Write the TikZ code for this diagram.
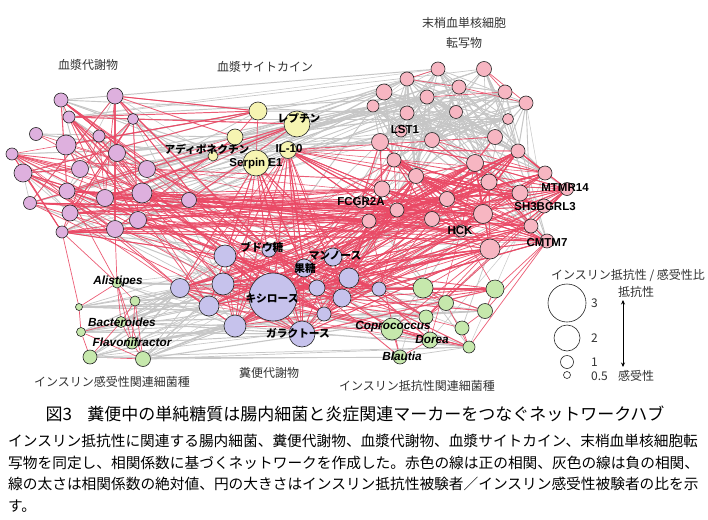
\documentclass[tikz,border=0pt]{standalone}
\usepackage{fontspec}
\setmainfont{Liberation Sans}
\newfontfamily\jp{Noto Sans CJK JP}
\usetikzlibrary{arrows.meta}
\definecolor{pm}{RGB}{222,176,222}
\definecolor{cy}{RGB}{246,244,178}
\definecolor{pb}{RGB}{247,182,194}
\definecolor{fm}{RGB}{198,194,236}
\definecolor{bgr}{RGB}{198,232,172}
\definecolor{posc}{RGB}{234,74,102}
\definecolor{negc}{RGB}{198,198,198}
\pgfdeclarelayer{bgfill}
\pgfdeclarelayer{edges}
\pgfsetlayers{bgfill,edges,main}
\newcommand\rndedges[9]{%
  \pgfmathsetseed{#9}%
  \foreach \k in {1,...,#8}{%
    \pgfmathrandominteger{\rxa}{#3}{#4}%
    \pgfmathrandominteger{\rxb}{#6}{#7}%
    \pgfmathsetmacro{\rxw}{0.45+0.7*rnd}%
    \draw[#1, line width=\rxw pt] (#2\rxa) -- (#5\rxb);
  }}
\tikzset{
  vtx/.style={circle, draw=black!85, line width=0.6pt, inner sep=0pt, minimum size=#1},
  posline/.style={posc, opacity=0.9},
  negline/.style={negc},
  lat/.style={font=\bfseries\fontsize{11.5}{13}\selectfont, inner sep=0pt},
  bac/.style={font=\bfseries\itshape\fontsize{11.8}{13}\selectfont, inner sep=0pt},
  jlb/.style={font=\jp\bfseries\fontsize{10.7}{12}\selectfont, inner sep=0pt},
  cat/.style={font=\jp\fontsize{12}{14}\selectfont, text=black!80, inner sep=0pt},
  body/.style={font=\jp\fontsize{14.7}{16}\selectfont, inner sep=0pt, anchor=west},
}
\begin{document}
\begin{tikzpicture}[x=1pt,y=-1pt]
\begin{pgfonlayer}{bgfill}
\fill[white] (0,0) rectangle (708,519);
\end{pgfonlayer}
\useasboundingbox (0,0) rectangle (708,519);

% plasma metabolites
\foreach \n/\x/\y/\d in {p1/61/100/14, p2/115/96/16, p3/69/117/12, p4/133/119/11,
  p5/36/134/13, p6/99/136/12, p7/66/145/20, p8/12/154/12, p9/117/153/17,
  p10/23/173/18, p11/80/169/17, p12/147/169/17, p13/67/191/16, p14/105/198/17,
  p15/142/193/20, p16/30/203/13, p17/189/200/15, p18/70/213/16, p19/138/220/17,
  p20/115/229/17, p21/62/232/12}
  \node[vtx=\d pt, fill=pm] (\n) at (\x,\y) {};
% cytokines
\foreach \n/\x/\y/\d in {c1/258/111/18, c2/297/124/26, c3/235/137/16, c4/213/156/10,
  c5/288/150/17, c6/256/163/26}
  \node[vtx=\d pt, fill=cy] (\n) at (\x,\y) {};
% PBMC transcripts
\foreach \n/\x/\y/\d in {t1/438/69/14, t2/484/69/15, t3/407/79/14, t4/384/92/16,
  t5/459/87/14, t6/427/97/14, t7/505/92/14, t8/373/106/12, t9/407/113/14,
  t10/456/112/13, t11/526/103/14, t12/508/119/11, t13/401/131/12, t14/380/142/17,
  t15/432/140/15, t16/495/137/15, t17/394/160/14, t18/518/151/14, t19/475/163/17,
  t20/416/176/15, t21/545/173/14, t22/489/182/16, t23/382/189/16, t24/567/189/13,
  t25/361/202/12, t26/447/199/15, t27/520/193/16, t28/544/206/14, t29/397/210/14,
  t30/369/221/14, t31/432/219/15, t32/483/214/19, t33/531/226/14, t34/461/231/12,
  t35/547/241/14, t36/490/249/20}
  \node[vtx=\d pt, fill=pb] (\n) at (\x,\y) {};
% fecal metabolites
\foreach \n/\x/\y/\d in {f1/269/250/14, f2/225/256/22, f3/333/257/18, f4/304/268/18,
  f5/349/278/20, f6/223/284/22, f7/180/288/19, f8/317/288/16, f9/273/297/48,
  f10/342/298/18, f11/379/289/14, f12/209/306/20, f13/324/314/14, f14/235/326/22,
  f15/302/334/26}
  \node[vtx=\d pt, fill=fm] (\n) at (\x,\y) {};
% insulin-sensitivity bacteria
\foreach \n/\x/\y/\d in {s1/117/283/10, s2/135/301/10, s3/79/307/7, s4/121/322/11,
  s5/81/332/9, s6/132/343/12, s7/90/357/14, s8/143/359/15}
  \node[vtx=\d pt, fill=bgr] (\n) at (\x,\y) {};
% insulin-resistance bacteria
\foreach \n/\x/\y/\d in {r1/423/288/20, r2/495/289/18, r3/446/303/15, r4/485/311/15,
  r5/426/317/14, r6/392/329/22, r7/462/328/14, r8/430/340/16, r9/469/347/12,
  r10/400/357/14}
  \node[vtx=\d pt, fill=bgr] (\n) at (\x,\y) {};

% connectors
\begin{pgfonlayer}{edges}
% negative correlations (grey)
\rndedges{negline}{t}{1}{12}{t}{13}{22}{120}{11}
\rndedges{negline}{t}{1}{6}{t}{7}{12}{30}{12}
\rndedges{negline}{t}{1}{12}{t}{23}{36}{25}{13}
\rndedges{negline}{t}{1}{12}{c}{1}{6}{14}{14}
\rndedges{negline}{t}{1}{16}{p}{1}{21}{34}{15}
\rndedges{negline}{p}{1}{21}{c}{1}{6}{20}{28}
\rndedges{negline}{p}{1}{10}{p}{11}{21}{12}{29}
\rndedges{negline}{f}{1}{15}{s}{1}{8}{60}{41}
\rndedges{negline}{f}{1}{15}{r}{1}{10}{15}{42}
\rndedges{negline}{s}{1}{8}{r}{1}{10}{8}{43}
\rndedges{negline}{f}{1}{15}{t}{1}{36}{20}{45}
\rndedges{negline}{p}{1}{21}{f}{1}{15}{15}{46}
\rndedges{negline}{r}{1}{10}{t}{13}{36}{8}{48}
% positive correlations (red)
\rndedges{posline}{t}{14}{19}{t}{20}{26}{30}{22}
\rndedges{posline}{t}{17}{26}{t}{27}{36}{120}{21}
\rndedges{posline}{f}{1}{15}{t}{17}{36}{90}{23}
\rndedges{posline}{f}{1}{7}{f}{8}{15}{55}{24}
\rndedges{posline}{p}{12}{21}{t}{23}{36}{55}{25}
\rndedges{posline}{p}{1}{21}{f}{1}{15}{40}{26}
\rndedges{posline}{p}{1}{10}{p}{11}{21}{35}{27}
\rndedges{posline}{c}{5}{5}{t}{13}{36}{14}{31}
\rndedges{posline}{c}{5}{6}{f}{1}{15}{24}{32}
\rndedges{posline}{c}{1}{3}{p}{1}{21}{15}{33}
\rndedges{posline}{f}{1}{15}{r}{1}{10}{30}{44}
\rndedges{posline}{r}{1}{10}{t}{23}{36}{6}{47}
\foreach \a/\b in {t3/t5, t6/t7, t2/t7, t2/t11, t5/t11, t1/t3, c1/c6, c1/c3}
  \draw[posline, line width=0.7pt] (\a) -- (\b);
\foreach \a/\b in {s1/s2, s1/s3, s1/s4, s1/s6, s1/s8, s2/s4, s2/s6, s2/s8, s3/s5,
  s4/s5, s5/s7, s5/s8, s7/s8, s4/s6, s6/s8, s4/s7, s1/p20, s1/p21, s1/p13, s3/p21}
  \draw[posline, line width=0.7pt] (\a) -- (\b);
\foreach \a/\b in {r1/r3, r3/r5, r2/r4, r4/r7, r7/r9, r5/r8, r6/r8, r6/r10, r8/r10,
  r3/r9, r9/t35, r4/t35, r2/t35, r1/t36, r5/t36}
  \draw[posline, line width=0.7pt] (\a) -- (\b);
\foreach \a/\b in {r9/r10, s8/r10, s8/r9, s7/r10}
  \draw[negline, line width=0.7pt] (\a) -- (\b);
\end{pgfonlayer}

% node labels
\node[jlb] (lLep) at (299,118) {レプチン};
\node[jlb] (lAdi) at (207,149) {アディポネクチン};
\node[lat] (lIL) at (289,149) {IL-10};
\node[lat] (lSerp) at (256,164) {Serpin E1};
\node[lat] (lLST) at (405,130) {LST1};
\node[lat] (lFCG) at (361,202) {FCGR2A};
\node[lat] (lMTM) at (565,188) {MTMR14};
\node[lat] (lSH3) at (545,207) {SH3BGRL3};
\node[lat] (lHCK) at (460,231) {HCK};
\node[lat] (lCMT) at (547,243) {CMTM7};
\node[jlb] (lGlc) at (262,247) {ブドウ糖};
\node[jlb] (lMan) at (335,256) {マンノース};
\node[jlb] (lFru) at (305,268) {果糖};
\node[jlb] (lXyl) at (272,298) {キシロース};
\node[jlb] (lGal) at (298,333) {ガラクトース};
\node[bac] (lAli) at (118,281) {Alistipes};
\node[bac] (lBac) at (122,322) {Bacteroides};
\node[bac] (lFla) at (132,342) {Flavonifractor};
\node[bac] (lCop) at (393,327) {Coprococcus};
\node[bac] (lDor) at (432,339) {Dorea};
\node[bac] (lBla) at (402,356) {Blautia};

% group labels
\node[cat] (g1) at (88,65) {血漿代謝物};
\node[cat] (g2) at (265,67) {血漿サイトカイン};
\node[cat] (g3) at (464,23) {末梢血単核細胞};
\node[cat] (g3b) at (464,43) {転写物};
\node[cat] (g4) at (112,382) {インスリン感受性関連細菌種};
\node[cat] (g5) at (269,373) {糞便代謝物};
\node[cat] (g6) at (417,386) {インスリン抵抗性関連細菌種};

% legend
\node[cat] (lgT) at (628,275) {インスリン抵抗性 / 感受性比};
\node[cat] (lgR) at (636,292) {抵抗性};
\node[cat] (lgS) at (636,376) {感受性};
\node[vtx=38pt, fill=white] (lg3) at (567,303) {};
\node[vtx=26pt, fill=white] (lg2) at (567,338) {};
\node[vtx=13pt, fill=white] (lg1) at (567,362) {};
\node[vtx=7pt, fill=white] (lg0) at (567,375) {};
\node[cat, anchor=west] (n3) at (591,303) {3};
\node[cat, anchor=west] (n2) at (591,338) {2};
\node[cat, anchor=west] (n1) at (591,362) {1};
\node[cat, anchor=west] (n0) at (591,376) {0.5};
\coordinate (aTop) at (623,300);
\coordinate (aBot) at (623,367);
\draw[{Stealth[length=4.5pt,width=4pt]}-{Stealth[length=4.5pt,width=4pt]}, line width=0.8pt] (aTop) -- (aBot);

% caption
\node[font=\jp\fontsize{17}{19}\selectfont, inner sep=0pt] (cap) at (355,414)
  {図3\hspace{0.9em}糞便中の単純糖質は腸内細菌と炎症関連マーカーをつなぐネットワークハブ};
\node[body] (b1) at (8,441) {インスリン抵抗性に関連する腸内細菌、糞便代謝物、血漿代謝物、血漿サイトカイン、末梢血単核細胞転};
\node[body] (b2) at (8,463) {写物を同定し、相関係数に基づくネットワークを作成した。赤色の線は正の相関、灰色の線は負の相関、};
\node[body] (b3) at (8,484) {線の太さは相関係数の絶対値、円の大きさはインスリン抵抗性被験者／インスリン感受性被験者の比を示};
\node[body] (b4) at (8,506) {す。};
\end{tikzpicture}
\end{document}
